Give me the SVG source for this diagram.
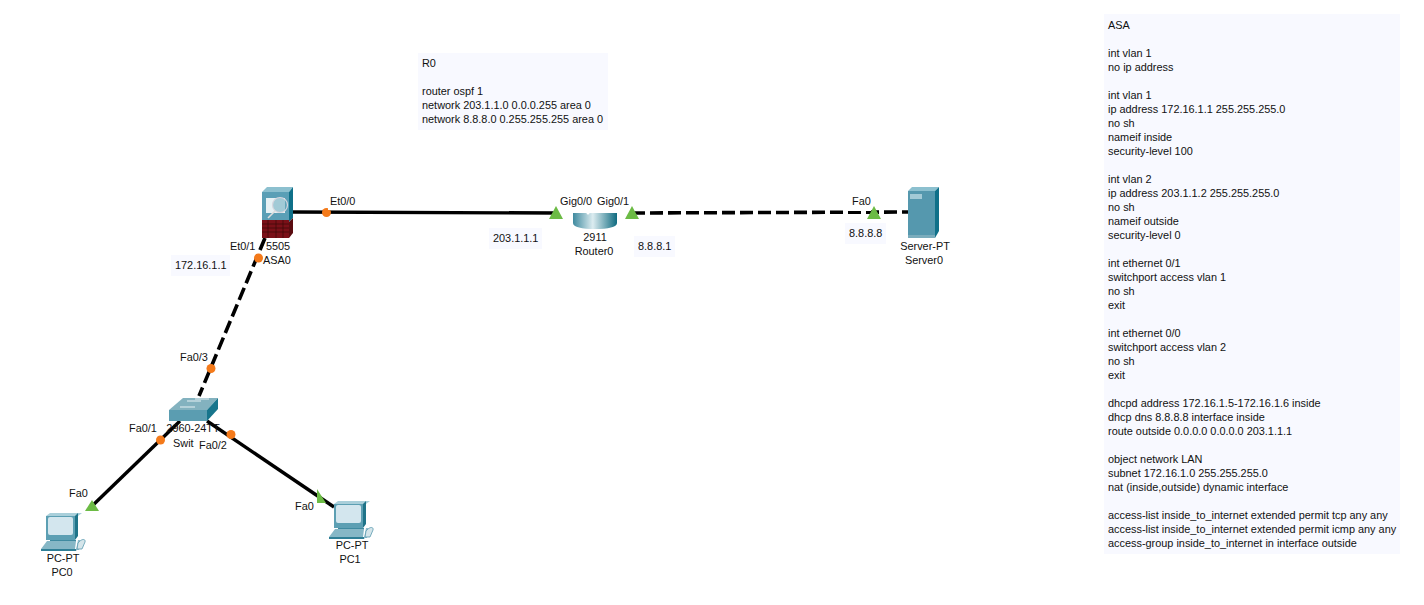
<svg xmlns="http://www.w3.org/2000/svg" width="1424" height="605" viewBox="0 0 1424 605">
<style>
text{font-family:"Liberation Sans",Arial,sans-serif;font-size:10.9px;fill:#111}
.m{text-anchor:middle}
.note{fill:#f8f9ff}
.solid{stroke:#000;stroke-width:3.4;fill:none}
.dash{stroke:#000;stroke-width:3.6;fill:none;stroke-dasharray:13 5}
.up{fill:#6cbb45}
.dn{fill:#f47a1a}
.lbl{fill:#fff}
</style>
<defs>
<g id="pc">
<path d="M0 3l4 -3h32l-4 3z" fill="#a9cfda"/>
<path d="M0 3h29v24h-29z" fill="#5c9fb3"/>
<path d="M29 3l3 -3v23l-3 4z" fill="#1f7489"/>
<rect x="2" y="4" width="25" height="18" rx="2" fill="#d3e6ee"/>
<path d="M4 27h26v2h-26z" fill="#3f8aa0"/>
<path d="M-5 36l6 -8h29l-1 8z" fill="#86b7c6"/>
<path d="M-5 36h36l-1 2h-35z" fill="#2f7f96"/>
<path d="M32 27h2l-1 10h-3z" fill="#8fbccb"/>
<path d="M32 30c4 -5 8 -4 7 -1l-3 7h-5z" fill="#d5e5ea" stroke="#5a9ab0" stroke-width=".8"/>
</g>
<linearGradient id="cyl" x1="0" x2="1" y1="0" y2="0">
<stop offset="0" stop-color="#3f8a9f"/><stop offset=".45" stop-color="#dcecf0"/><stop offset="1" stop-color="#0f6b80"/>
</linearGradient>
</defs>
<g id="connectors">
<path class="solid" d="M293 212L556 213"/>
<path class="dash" d="M632 213L908 212"/>
<path class="dash" d="M265 238L199 396"/>
<path class="solid" d="M180 421L91 507"/>
<path class="solid" d="M207 421L334 507"/>
</g>
<g id="ports">
<circle class="dn" cx="326.500" cy="212.500" r="4.500"/>
<circle class="dn" cx="258.500" cy="258" r="4.500"/>
<circle class="dn" cx="211" cy="368.500" r="4.500"/>
<circle class="dn" cx="160.500" cy="440" r="4.500"/>
<circle class="dn" cx="231" cy="434.500" r="4.500"/>
<rect class="lbl" x="328" y="196" width="30" height="14"/>
<path class="lbl" d="M556 195h76v16h-76z"/>
<rect class="lbl" x="845" y="196" width="26" height="15"/>
<path class="up" d="M556 206l7 13h-14z"/>
<path class="up" d="M632 206l7 13h-14z"/>
<path class="up" d="M874 206l7 13h-14z"/>
<path class="up" d="M92 500l7 11h-14z"/>
<path class="up" d="M317 489l9 14h-9z"/>
</g>
<g id="asa0">
<path d="M262 192l5 -5h26l-4 5z" fill="#8cc0cf"/>
<path d="M262 192h27v28h-27z" fill="#5a9fb6"/>
<path d="M289 192l4 -5v31l-4 4z" fill="#0f7089"/>
<path d="M262 220h27v18h-27z" fill="#7a1018"/>
<path d="M289 222l4 -4v15l-4 5z" fill="#5a0c10"/>
<path d="M262 224h27M262 228h27M262 232h27M268 220v18M276 220v18M283 220v18" stroke="#3a0808" stroke-width=".7" fill="none"/>
<path d="M266 198h19v15h-19z" fill="#fff" opacity=".85"/>
<circle cx="280" cy="205" r="7.500" fill="#6aa9bd" fill-opacity=".55" stroke="#d6d6de" stroke-width="1.200"/>
<path d="M275 211l-7 7" stroke="#ddd" stroke-width="1.600"/>
<text class="m" x="278" y="250">5505</text>
<text class="m" x="277" y="264">ASA0</text>
</g>
<g id="router0">
<path d="M573 213h44v10c0 4 -9 6 -22 6s-22 -2 -22 -6z" fill="url(#cyl)"/>
<circle cx="588" cy="213" r="1.500" fill="#fff"/>
<text class="m" x="595" y="241">2911</text>
<text class="m" x="594" y="255">Router0</text>
</g>
<g id="server0">
<path d="M908 191l4 -4h27l-4 4z" fill="#8cc0cf"/>
<rect x="908" y="191" width="27" height="47" fill="#5598ae"/>
<path d="M935 191l4 -4v44l-4 7z" fill="#0f7089"/>
<rect x="910" y="194" width="12" height="5" fill="#a3cad6"/>
<rect x="908" y="235" width="27" height="3" fill="#7aacbc"/>
<text class="m" x="925" y="250">Server-PT</text>
<text class="m" x="924" y="264">Server0</text>
</g>
<g id="switch0">
<path d="M169 410l14 -12h35l-11 12z" fill="#83b2bf"/>
<path d="M169 410h38v11h-38z" fill="#5b9db1"/>
<path d="M207 410l11 -12v11l-11 12z" fill="#17758c"/>
<path d="M187 401h14M195 399l14 0M180 407h15" stroke="#e6f1f4" stroke-width="1" fill="none"/>
<text class="m" x="193" y="432">2960-24TT</text>
<text x="173" y="447">Swit</text>
</g>
<g id="pc0">
<use href="#pc" x="46" y="513"/>
<text class="m" x="63" y="562">PC-PT</text>
<text class="m" x="62" y="576">PC0</text>
</g>
<g id="pc1">
<use href="#pc" x="334" y="501"/>
<text class="m" x="352" y="549">PC-PT</text>
<text class="m" x="350" y="563">PC1</text>
</g>
<g id="port-labels">
<text x="330" y="205">Et0/0</text>
<text x="230" y="250">Et0/1</text>
<text x="180" y="361">Fa0/3</text>
<text x="129" y="432">Fa0/1</text>
<text x="199" y="449">Fa0/2</text>
<text x="69" y="497">Fa0</text>
<text x="295" y="510">Fa0</text>
<text x="560" y="205">Gig0/0</text>
<text x="597" y="205">Gig0/1</text>
<text x="852" y="205">Fa0</text>
</g>
<g id="note-172">
<rect class="note" x="171" y="255" width="59" height="21"/>
<text x="175" y="269">172.16.1.1</text>
</g>
<g id="note-203">
<rect class="note" x="489" y="228" width="53" height="21"/>
<text x="493" y="242">203.1.1.1</text>
</g>
<g id="note-881">
<rect class="note" x="634" y="236" width="41" height="21"/>
<text x="638" y="250">8.8.8.1</text>
</g>
<g id="note-888">
<rect class="note" x="845" y="223" width="41" height="21"/>
<text x="849" y="237">8.8.8.8</text>
</g>
<g id="note-r0">
<rect class="note" x="418" y="53" width="190" height="77"/>
<text x="422" y="67">R0</text>
<text x="422" y="95">router ospf 1</text>
<text x="422" y="109">network 203.1.1.0 0.0.0.255 area 0</text>
<text x="422" y="123">network 8.8.8.0 0.255.255.255 area 0</text>
</g>
<g id="note-asa">
<rect class="note" x="1104" y="14" width="296" height="540"/>
<text x="1108" y="29">ASA</text>
<text x="1108" y="57">int vlan 1</text>
<text x="1108" y="71">no ip address</text>
<text x="1108" y="99">int vlan 1</text>
<text x="1108" y="113">ip address 172.16.1.1 255.255.255.0</text>
<text x="1108" y="127">no sh</text>
<text x="1108" y="141">nameif inside</text>
<text x="1108" y="155">security-level 100</text>
<text x="1108" y="183">int vlan 2</text>
<text x="1108" y="197">ip address 203.1.1.2 255.255.255.0</text>
<text x="1108" y="211">no sh</text>
<text x="1108" y="225">nameif outside</text>
<text x="1108" y="239">security-level 0</text>
<text x="1108" y="267">int ethernet 0/1</text>
<text x="1108" y="281">switchport access vlan 1</text>
<text x="1108" y="295">no sh</text>
<text x="1108" y="309">exit</text>
<text x="1108" y="337">int ethernet 0/0</text>
<text x="1108" y="351">switchport access vlan 2</text>
<text x="1108" y="365">no sh</text>
<text x="1108" y="379">exit</text>
<text x="1108" y="407">dhcpd address 172.16.1.5-172.16.1.6 inside</text>
<text x="1108" y="421">dhcp dns 8.8.8.8 interface inside</text>
<text x="1108" y="435">route outside 0.0.0.0 0.0.0.0 203.1.1.1</text>
<text x="1108" y="463">object network LAN</text>
<text x="1108" y="477">subnet 172.16.1.0 255.255.255.0</text>
<text x="1108" y="491">nat (inside,outside) dynamic interface</text>
<text x="1108" y="519">access-list inside_to_internet extended permit tcp any any</text>
<text x="1108" y="533">access-list inside_to_internet extended permit icmp any any</text>
<text x="1108" y="547">access-group inside_to_internet in interface outside</text>
</g>
</svg>
